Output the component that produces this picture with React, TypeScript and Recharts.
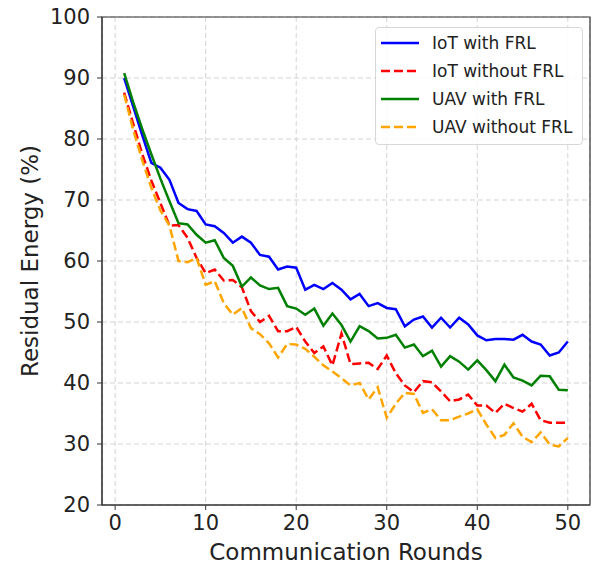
import React from 'react';
import { LineChart, Line, XAxis, YAxis, CartesianGrid, Legend, ReferenceArea } from 'recharts';

// Rondas de comunicación (eje X)
const rounds = [
  1, 2, 3, 4, 5, 6, 7, 8, 9, 10,
  11, 12, 13, 14, 15, 16, 17, 18, 19, 20,
  21, 22, 23, 24, 25, 26, 27, 28, 29, 30,
  31, 32, 33, 34, 35, 36, 37, 38, 39, 40,
  41, 42, 43, 44, 45, 46, 47, 48, 49, 50,
];

// Energía residual (%)
const iotWithFrl = [
  90, 85.3, 80.6, 76.1, 75.3, 73.3, 69.5, 68.5, 68.2, 66,
  65.7, 64.6, 63, 64, 63, 61, 60.7, 58.6, 59.1, 58.9,
  55.3, 56.1, 55.4, 56.4, 55.3, 53.7, 54.6, 52.6, 53.1, 52.3,
  52.1, 49.3, 50.4, 50.9, 49.1, 50.7, 49.1, 50.7, 49.6, 47.8,
  47, 47.2, 47.2, 47.1, 47.9, 46.8, 46.3, 44.5, 45, 46.8,
];

const iotWithoutFrl = [
  87.6, 82.5, 77.5, 73.2, 69.5, 65.8, 65.9, 63.8, 60.5, 58,
  58.6, 56.8, 56.9, 55.7, 51.8, 50, 51, 48.5, 48.5, 49.2,
  46.8, 44.9, 46, 42.9, 48.1, 43.1, 43.2, 43.3, 42.3, 44.5,
  41.6, 39.6, 38.5, 40.3, 40.1, 38.6, 37, 37.3, 38.1, 36.3,
  36.3, 35.1, 36.6, 35.9, 35.3, 36.6, 33.9, 33.5, 33.5, 33.5,
];

const uavWithFrl = [
  90.8, 86, 81.6, 77.5, 73.5, 69.8, 66.2, 66, 64.3, 63,
  63.4, 60.5, 59.2, 55.8, 57.3, 56, 55.4, 55.6, 52.6, 52.2,
  51.2, 52.2, 49.4, 51.4, 49.5, 46.8, 49.3, 48.5, 47.3, 47.4,
  47.9, 45.8, 46.3, 44.4, 45.3, 42.7, 44.4, 43.5, 42.2, 43.7,
  42.1, 40.3, 43, 40.9, 40.4, 39.6, 41.2, 41.1, 38.9, 38.8,
];

const uavWithoutFrl = [
  87.3, 81.5, 76.5, 72, 68.3, 65.8, 60, 59.8, 60.5, 56.1,
  56.7, 53.1, 51.2, 52.3, 49, 48, 46.5, 44.2, 46.4, 46.3,
  45.6, 44.3, 42.9, 41.9, 40.8, 39.6, 40, 37.3, 39.3, 34.3,
  36.6, 38.4, 38.2, 35.1, 35.7, 33.9, 33.9, 34.5, 35, 35.7,
  33.2, 31, 31.5, 33.4, 31.2, 30.3, 31.9, 29.9, 29.6, 31,
];

const xTicks = [0, 10, 20, 30, 40, 50];
const yTicks = [20, 30, 40, 50, 60, 70, 80, 90, 100];

const series = [
  { key: 'iotFrl', nome: 'IoT with FRL', cor: '#0000ff', dash: undefined },
  { key: 'iotNoFrl', nome: 'IoT without FRL', cor: '#ff0000', dash: '9 4' },
  { key: 'uavFrl', nome: 'UAV with FRL', cor: '#008000', dash: undefined },
  { key: 'uavNoFrl', nome: 'UAV without FRL', cor: '#ffa500', dash: '9 4' },
];

const data = rounds.map((r, i) => ({
  round: r,
  iotFrl: iotWithFrl[i],
  iotNoFrl: iotWithoutFrl[i],
  uavFrl: uavWithFrl[i],
  uavNoFrl: uavWithoutFrl[i],
}));

const FONT = '"DejaVu Sans", sans-serif';

// legenda estilo matplotlib
const LegendBox = () => (
  <div
    style={{
      border: '1px solid #d8d8d8',
      borderRadius: 4,
      background: 'rgba(255,255,255,0.85)',
      padding: '1px 0 3px 0',
      fontFamily: FONT,
      fontSize: 17,
      color: '#222',
      boxSizing: 'border-box',
    }}
  >
    {series.map((s) => (
      <div key={s.key} style={{ display: 'flex', alignItems: 'center', height: 28 }}>
        <svg width={38} height={10} style={{ marginLeft: 5, marginRight: 13 }}>
          <line x1={0} y1={5} x2={38} y2={5} stroke={s.cor} strokeWidth={2.5} strokeDasharray={s.dash} />
        </svg>
        <span>{s.nome}</span>
      </div>
    ))}
  </div>
);

const YLabel = (props: any) => {
  const { viewBox } = props;
  const cx = viewBox.x + 30;
  const cy = viewBox.y + viewBox.height / 2;
  return (
    <text
      x={cx}
      y={cy}
      transform={`rotate(-90 ${cx} ${cy})`}
      textAnchor="middle"
      dominantBaseline="central"
      fill="#222"
      fontSize={23}
      fontFamily={FONT}
    >
      Residual Energy (%)
    </text>
  );
};

export default function App() {
  return (
    <div style={{ position: 'absolute', top: 0, left: 0, width: 597, height: 568, background: '#fff' }}>
      <LineChart width={597} height={568} data={data} margin={{ top: 17, right: 7, bottom: 0, left: 0 }}>
        <CartesianGrid stroke="#d3d3d3" strokeDasharray="5 3" />
        <XAxis
          dataKey="round"
          type="number"
          domain={[-1.45, 52.45]}
          ticks={xTicks}
          height={63}
          tickSize={5}
          tickMargin={5}
          stroke="#333"
          tick={{ fill: '#222', fontSize: 21, fontFamily: FONT }}
          label={{ value: 'Communication Rounds', position: 'insideBottom', offset: 8, fill: '#222', fontSize: 23, fontFamily: FONT }}
        />
        <YAxis
          type="number"
          domain={[20, 100]}
          ticks={yTicks}
          width={102}
          tickSize={5}
          tickMargin={7}
          stroke="#333"
          tick={{ fill: '#222', fontSize: 21, fontFamily: FONT }}
          label={<YLabel />}
        />
        <ReferenceArea x1={-1.45} x2={52.45} y1={20} y2={100} fill="none" stroke="#333" strokeWidth={1.2} />
        {series.map((s) => (
          <Line
            key={s.key}
            type="linear"
            dataKey={s.key}
            name={s.nome}
            stroke={s.cor}
            strokeWidth={2.5}
            strokeDasharray={s.dash}
            dot={false}
            isAnimationActive={false}
          />
        ))}
        <Legend
          layout="vertical"
          align="center"
          verticalAlign="middle"
          content={<LegendBox />}
          wrapperStyle={{ top: 27, left: 375, width: 208, height: 116 }}
        />
      </LineChart>
    </div>
  );
}
